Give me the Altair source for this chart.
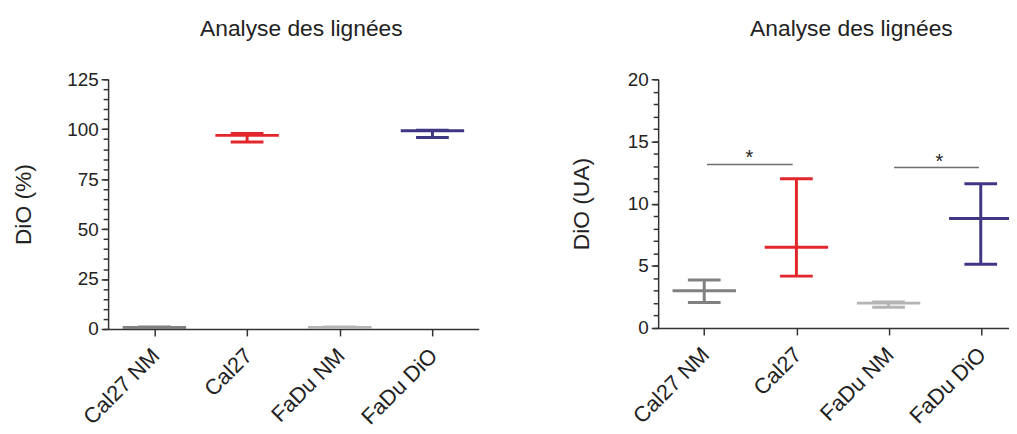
import json
import altair as alt
import pandas as pd

categories = ["Cal27 NM", "Cal27", "FaDu NM", "FaDu DiO"]
colors = ["#808080", "#e2262b", "#b4b4b4", "#3f3783"]

pct_mean = [0.8, 96.9, 0.8, 99.2]
pct_low = [0.6, 93.6, 0.6, 95.8]
pct_high = [1.0, 97.9, 1.0, 99.5]

ua_mean = [3.0, 6.5, 2.0, 8.8]
ua_low = [2.05, 4.17, 1.67, 5.13]
ua_high = [3.86, 12.0, 2.1, 11.6]

sig_x1 = [0.03, 2.06]
sig_x2 = [0.96, 2.98]
sig_y = [13.15, 12.9]
star_x = [0.49, 2.55]
star_labels = ["*", "*"]

pct_major = [0, 25, 50, 75, 100, 125]
pct_minor = list(range(0, 126, 5))
ua_major = [0, 5, 10, 15, 20]
ua_minor = list(range(0, 21, 1))

FONT = "Liberation Sans"
cat_expr = json.dumps(categories) + "[datum.value]"


def make_df(mean, low, high):
    return pd.DataFrame({
        "idx": list(range(len(categories))),
        "cat": categories,
        "mean": mean,
        "low": low,
        "high": high,
    })


def panel(df, ydom, major, minor, ytitle, xmax, width, height, title_pad, title_dx, extra=None):
    color = alt.Color("cat:N", scale=alt.Scale(domain=categories, range=colors), legend=None)
    xenc = alt.X(
        "idx:Q",
        scale=alt.Scale(domain=[-0.5, xmax], nice=False, zero=False),
        axis=alt.Axis(
            values=[0, 1, 2, 3], labelExpr=cat_expr, labelAngle=-45,
            labelAlign="right", labelBaseline="middle", tickSize=7,
            labelPadding=16, labelOffset=1, title=None, labelFontSize=22,
            labelOverlap=False,
        ),
    )
    yscale = alt.Scale(domain=ydom, nice=False, zero=True)
    major_axis = alt.Axis(
        values=major, tickSize=7, labelPadding=3, title=ytitle,
        titlePadding=title_pad, orient="left", labelOverlap=False,
    )
    minor_axis = alt.Axis(
        values=minor, tickSize=5, labels=False, domain=False, title=None,
        orient="left",
    )
    base = alt.Chart(df)
    rule = base.mark_rule(strokeWidth=3, clip=True).encode(
        x=xenc, y=alt.Y("low:Q", scale=yscale, axis=major_axis), y2="high:Q", color=color
    )
    mean_t = base.mark_tick(orient="horizontal", size=64, thickness=3, opacity=1, clip=True).encode(
        x="idx:Q", y=alt.Y("mean:Q", scale=yscale, axis=minor_axis), color=color
    )
    low_t = base.mark_tick(orient="horizontal", size=33, thickness=3, opacity=1, clip=True).encode(
        x="idx:Q", y=alt.Y("low:Q", axis=None), color=color
    )
    high_t = base.mark_tick(orient="horizontal", size=33, thickness=3, opacity=1, clip=True).encode(
        x="idx:Q", y=alt.Y("high:Q", axis=None), color=color
    )
    layers = [rule, mean_t, low_t, high_t]
    if extra is not None:
        layers += extra
    return alt.layer(*layers).resolve_axis(y="independent").properties(
        width=width, height=height,
        title=alt.TitleParams("Analyse des lignées", dx=title_dx),
    )


sig_df = pd.DataFrame({"x1": sig_x1, "x2": sig_x2, "y": sig_y, "sx": star_x, "lab": star_labels})
sig_rule = alt.Chart(sig_df).mark_rule(color="#6e6e6e", strokeWidth=1.6).encode(
    x="x1:Q", x2="x2:Q", y=alt.Y("y:Q", axis=None)
)
sig_text = alt.Chart(sig_df).mark_text(
    font=FONT, fontSize=20, baseline="alphabetic", dy=0, color="#222"
).encode(x="sx:Q", y=alt.Y("y:Q", axis=None), text="lab:N")

left = panel(make_df(pct_mean, pct_low, pct_high), [0, 125], pct_major, pct_minor, "DiO (%)",
             3.5, 374, 252, 32, 8)
right = panel(make_df(ua_mean, ua_low, ua_high), [0, 20], ua_major, ua_minor, "DiO (UA)",
              -0.5 + 358 / 93.0, 358, 251, 34, 16, extra=[sig_rule, sig_text])

chart = alt.hconcat(left, right, spacing=92).properties(
    padding={"left": 4, "top": 8, "right": -4, "bottom": -4},
    background="white",
).configure_view(stroke=None).configure_axis(
    grid=False,
    domainColor="#333333", domainWidth=1.5,
    tickColor="#333333", tickWidth=1.5,
    labelFont=FONT, labelFontSize=19, labelColor="#222222",
    titleFont=FONT, titleFontSize=23, titleFontWeight="normal", titleColor="#222222",
).configure_title(
    font=FONT, fontSize=23, fontWeight="normal", color="#222222", offset=30,
    anchor="middle", frame="group", baseline="alphabetic",
)

chart.save("out.html", embed_options={"renderer": "svg", "actions": False})
